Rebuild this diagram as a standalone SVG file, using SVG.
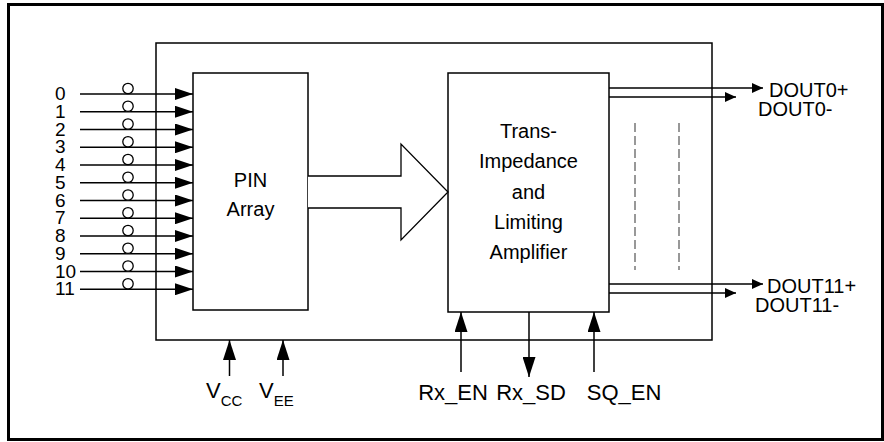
<svg xmlns="http://www.w3.org/2000/svg" width="884" height="442" viewBox="0 0 884 442">
<style>
text{font-family:"Liberation Sans",Arial,sans-serif;fill:#000}
.box{fill:#fff;stroke:#000;stroke-width:1.5}
.ln{stroke:#000;stroke-width:1.5;fill:none}
.dash{stroke:#777;stroke-width:1.5;stroke-dasharray:9 4;fill:none}
.lbl{font-size:20px}
.dg{font-size:19px}
.bl{font-size:22px}
.ring{fill:#fff;stroke:#000;stroke-width:1.3}
</style>
<defs>
<marker id="ahIn" markerUnits="userSpaceOnUse" markerWidth="18" markerHeight="12" refX="18" refY="6" orient="auto"><path d="M0,0 L18,6 L0,12 z" fill="#000"/></marker>
<marker id="ahOut" markerUnits="userSpaceOnUse" markerWidth="11" markerHeight="10" refX="11" refY="5" orient="auto"><path d="M0,0 L11,5 L0,10 z" fill="#000"/></marker>
<marker id="ahBot" markerUnits="userSpaceOnUse" markerWidth="20" markerHeight="13" refX="20" refY="6.5" orient="auto"><path d="M0,0 L20,6.5 L0,13 z" fill="#000"/></marker>
</defs>
<rect x="0" y="0" width="884" height="442" fill="#fff"/>
<rect x="8.5" y="4.5" width="874" height="435" fill="none" stroke="#000" stroke-width="3"/>
<g id="module"><rect class="box" x="156" y="43" width="556" height="297" stroke-width="1.3"/></g>
<g id="pin-array">
<rect class="box" x="193" y="73" width="115" height="237"/>
<text class="lbl" x="250.5" y="187" text-anchor="middle">PIN</text>
<text class="lbl" x="250.5" y="216" text-anchor="middle">Array</text>
</g>
<g id="tia">
<rect class="box" x="448" y="73" width="161" height="239"/>
<text class="lbl" x="528.5" y="138" text-anchor="middle">Trans-</text>
<text class="lbl" x="528.5" y="168" text-anchor="middle">Impedance</text>
<text class="lbl" x="528.5" y="199" text-anchor="middle">and</text>
<text class="lbl" x="528.5" y="229" text-anchor="middle">Limiting</text>
<text class="lbl" x="528.5" y="259" text-anchor="middle">Amplifier</text>
</g>
<g id="big-arrow"><path d="M308,176 L401,176 L401,144 L448,192 L401,240 L401,208 L308,208" fill="#fff" stroke="#000" stroke-width="1.3"/></g>
<g id="connectors">
<g class="inputs">
<line class="ln" x1="80" y1="94" x2="193" y2="94" marker-end="url(#ahIn)"/>
<line class="ln" x1="80" y1="111.75" x2="193" y2="111.75" marker-end="url(#ahIn)"/>
<line class="ln" x1="80" y1="129.5" x2="193" y2="129.5" marker-end="url(#ahIn)"/>
<line class="ln" x1="80" y1="147.25" x2="193" y2="147.25" marker-end="url(#ahIn)"/>
<line class="ln" x1="80" y1="165" x2="193" y2="165" marker-end="url(#ahIn)"/>
<line class="ln" x1="80" y1="182.75" x2="193" y2="182.75" marker-end="url(#ahIn)"/>
<line class="ln" x1="80" y1="200.5" x2="193" y2="200.5" marker-end="url(#ahIn)"/>
<line class="ln" x1="80" y1="218.25" x2="193" y2="218.25" marker-end="url(#ahIn)"/>
<line class="ln" x1="80" y1="236" x2="193" y2="236" marker-end="url(#ahIn)"/>
<line class="ln" x1="80" y1="253.75" x2="193" y2="253.75" marker-end="url(#ahIn)"/>
<line class="ln" x1="80" y1="271.5" x2="193" y2="271.5" marker-end="url(#ahIn)"/>
<line class="ln" x1="80" y1="289.25" x2="193" y2="289.25" marker-end="url(#ahIn)"/>
<circle class="ring" cx="128" cy="88.5" r="5.2"/>
<circle class="ring" cx="128" cy="106.25" r="5.2"/>
<circle class="ring" cx="128" cy="124" r="5.2"/>
<circle class="ring" cx="128" cy="141.75" r="5.2"/>
<circle class="ring" cx="128" cy="159.5" r="5.2"/>
<circle class="ring" cx="128" cy="177.25" r="5.2"/>
<circle class="ring" cx="128" cy="195" r="5.2"/>
<circle class="ring" cx="128" cy="212.75" r="5.2"/>
<circle class="ring" cx="128" cy="230.5" r="5.2"/>
<circle class="ring" cx="128" cy="248.25" r="5.2"/>
<circle class="ring" cx="128" cy="266" r="5.2"/>
<circle class="ring" cx="128" cy="283.75" r="5.2"/>
</g>
<g class="outputs">
<line class="ln" x1="609" y1="88" x2="763" y2="88" stroke-width="1.3" marker-end="url(#ahOut)"/>
<line class="ln" x1="609" y1="97" x2="736" y2="97" stroke-width="1.3" marker-end="url(#ahOut)"/>
<line class="ln" x1="609" y1="284" x2="763" y2="284" stroke-width="1.3" marker-end="url(#ahOut)"/>
<line class="ln" x1="609" y1="293" x2="736" y2="293" stroke-width="1.3" marker-end="url(#ahOut)"/>
<line class="dash" x1="635" y1="123" x2="635" y2="270"/>
<line class="dash" x1="679" y1="123" x2="679" y2="270"/>
</g>
<g class="bottom">
<line class="ln" x1="229.5" y1="376" x2="229.5" y2="340" marker-end="url(#ahBot)"/>
<line class="ln" x1="283" y1="376" x2="283" y2="340" marker-end="url(#ahBot)"/>
<line class="ln" x1="461" y1="372" x2="461" y2="312" marker-end="url(#ahBot)"/>
<line class="ln" x1="529" y1="312" x2="529" y2="377" marker-end="url(#ahBot)"/>
<line class="ln" x1="594" y1="372" x2="594" y2="312" marker-end="url(#ahBot)"/>
</g>
</g>
<g id="input-labels">
<text class="dg" x="55" y="100">0</text>
<text class="dg" x="55" y="117.75">1</text>
<text class="dg" x="55" y="135.5">2</text>
<text class="dg" x="55" y="153.25">3</text>
<text class="dg" x="55" y="171">4</text>
<text class="dg" x="55" y="188.75">5</text>
<text class="dg" x="55" y="206.5">6</text>
<text class="dg" x="55" y="224.25">7</text>
<text class="dg" x="55" y="242">8</text>
<text class="dg" x="55" y="259.75">9</text>
<text class="dg" x="55" y="277.5">10</text>
<text class="dg" x="55" y="295.25">11</text>
</g>
<g id="output-labels">
<text class="lbl" x="769" y="97">DOUT0+</text>
<text class="lbl" x="758" y="116">DOUT0-</text>
<text class="lbl" x="767" y="292.5">DOUT11+</text>
<text class="lbl" x="755" y="312">DOUT11-</text>
</g>
<g id="bottom-labels">
<text class="bl" x="206" y="398">V<tspan font-size="15" dy="8">CC</tspan></text>
<text class="bl" x="259" y="398">V<tspan font-size="15" dy="8">EE</tspan></text>
<text class="bl" x="453" y="400" text-anchor="middle">Rx_EN</text>
<text class="bl" x="531" y="400" text-anchor="middle">Rx_SD</text>
<text class="bl" x="624" y="400" text-anchor="middle">SQ_EN</text>
</g>
</svg>
